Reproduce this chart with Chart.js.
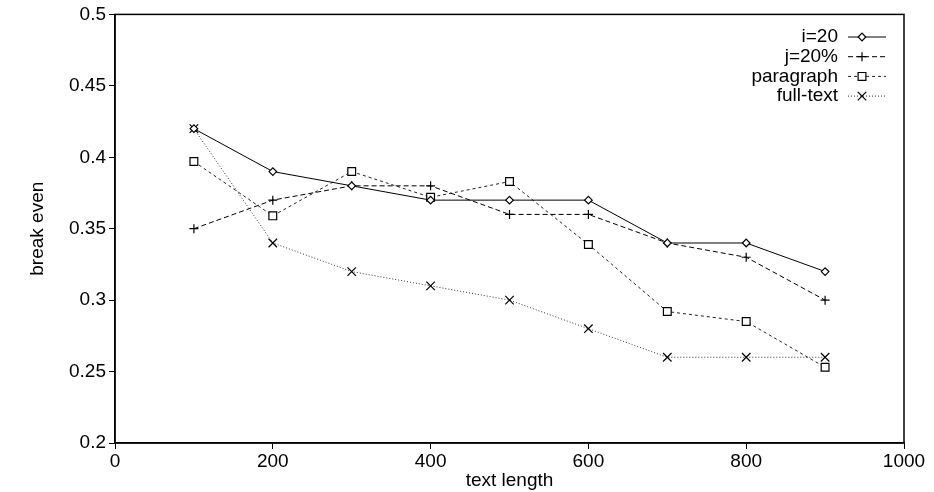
<!DOCTYPE html>
<html>
<head>
<meta charset="utf-8">
<script src="https://cdn.jsdelivr.net/npm/chart.js@4/dist/chart.umd.min.js"></script>
<style>
    html, body {
        margin: 0;
        padding: 0;
        background: #fff;
    }
    .chart-box {
        width: 934px;
        height: 492px;
    }
</style>
</head>
<body>
<div class="chart-box">
    <canvas id="breakEvenChart" width="934" height="492"></canvas>
</div>

<script>
    // text length (x) and break-even values
    const textLength = [100, 200, 300, 400, 500, 600, 700, 800, 900];
    const seriesI20 = [0.42, 0.39, 0.38, 0.37, 0.37, 0.37, 0.34, 0.34, 0.32];
    const seriesJ20 = [0.35, 0.37, 0.38, 0.38, 0.36, 0.36, 0.34, 0.33, 0.30];
    const seriesParagraph = [0.397, 0.359, 0.39, 0.372, 0.383, 0.339, 0.292, 0.285, 0.253];
    const seriesFullText = [0.42, 0.34, 0.32, 0.31, 0.30, 0.28, 0.26, 0.26, 0.26];
    const seriesNames = ['i=20', 'j=20%', 'paragraph', 'full-text'];

    const font = "'Liberation Sans', Arial, Helvetica, sans-serif";

    function points(ys) {
        return textLength.map((x, i) => ({ x: x, y: ys[i] }));
    }

    function makeSet(label, ys, style, radius, dash, color) {
        return {
            label: label,
            data: points(ys),
            borderColor: color,
            borderWidth: 1,
            borderDash: dash,
            pointStyle: style,
            pointRadius: radius,
            pointBorderColor: '#000',
            pointBorderWidth: 1.2,
            pointBackgroundColor: '#fff',
            tension: 0,
            fill: false
        };
    }

    // frame round the plot + gnuplot-like key in the top right
    const framePlugin = {
        id: 'frame',
        afterDraw(chart) {
            const c = chart.ctx;
            const a = chart.chartArea;
            c.save();
            c.strokeStyle = '#000';
            c.lineWidth = 1.5;
            c.strokeRect(a.left, a.top, a.right - a.left, a.bottom - a.top);

            c.font = '19px ' + font;
            c.textAlign = 'right';
            c.textBaseline = 'middle';
            chart.data.datasets.forEach((ds, i) => {
                const y = 37 + i * 19.7;
                c.fillStyle = '#000';
                c.fillText(ds.label, 838, y);
                c.beginPath();
                c.setLineDash(ds.borderDash);
                c.strokeStyle = ds.borderColor;
                c.lineWidth = ds.borderWidth;
                c.moveTo(848, y);
                c.lineTo(886, y);
                c.stroke();
                c.setLineDash([]);
                c.strokeStyle = '#000';
                c.lineWidth = 1.2;
                c.fillStyle = '#fff';
                Chart.helpers.drawPoint(c, { pointStyle: ds.pointStyle, radius: ds.pointRadius, rotation: 0, borderWidth: 1.2 }, 862, y);
            });
            c.restore();
        }
    };

    const ctx = document.getElementById('breakEvenChart').getContext('2d');
    const breakEvenChart = new Chart(ctx, {
        type: 'line',
        data: {
            datasets: [
                makeSet(seriesNames[0], seriesI20, 'rectRot', 3.8, [], '#000'),
                makeSet(seriesNames[1], seriesJ20, 'cross', 4.5, [5, 3], '#000'),
                makeSet(seriesNames[2], seriesParagraph, 'rect', 5.5, [3, 3], '#222'),
                makeSet(seriesNames[3], seriesFullText, 'crossRot', 6, [1, 2], '#333')
            ]
        },
        options: {
            responsive: false,
            animation: false,
            layout: {
                padding: { top: 13, right: 30, left: 0, bottom: 0 }
            },
            scales: {
                x: {
                    type: 'linear',
                    min: 0,
                    max: 1000,
                    afterFit: s => { s.height = 49; },
                    ticks: {
                        stepSize: 200,
                        color: '#000',
                        font: { family: font, size: 19 },
                        padding: 1,
                        maxRotation: 0,
                        callback: v => String(v)
                    },
                    grid: {
                        drawOnChartArea: false,
                        tickLength: 6,
                        color: '#000'
                    },
                    border: { color: '#000', width: 1.5 },
                    title: {
                        display: true,
                        text: 'text length',
                        color: '#000',
                        font: { family: font, size: 19 },
                        padding: { top: 0, bottom: 0 }
                    }
                },
                y: {
                    min: 0.2,
                    max: 0.5,
                    afterFit: s => { s.width = 115; },
                    ticks: {
                        stepSize: 0.05,
                        color: '#000',
                        font: { family: font, size: 19 },
                        padding: 3,
                        callback: v => String(+v.toFixed(2))
                    },
                    grid: {
                        drawOnChartArea: false,
                        tickLength: 6,
                        color: '#000'
                    },
                    border: { color: '#000', width: 1.5 },
                    title: {
                        display: true,
                        text: 'break even',
                        color: '#000',
                        font: { family: font, size: 19 },
                        padding: { top: 26, bottom: 0 }
                    }
                }
            },
            plugins: {
                legend: { display: false },
                tooltip: { enabled: false }
            }
        },
        plugins: [framePlugin]
    });
</script>
</body>
</html>
